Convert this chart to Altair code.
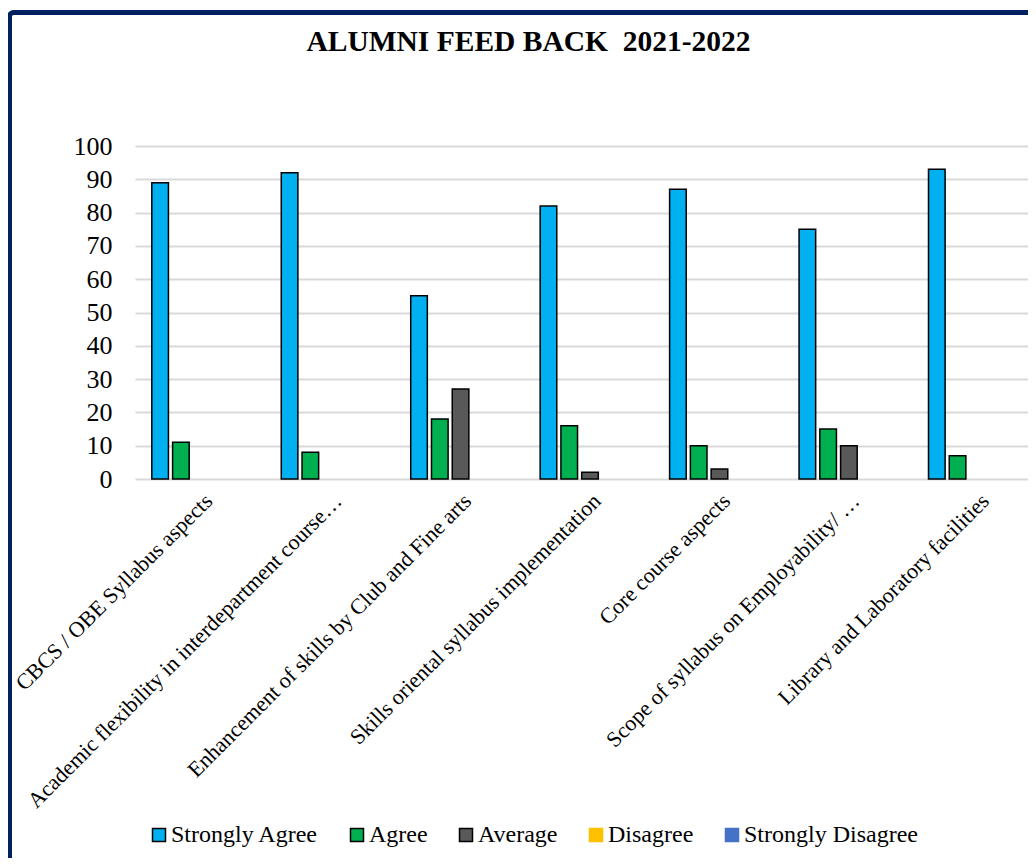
import altair as alt
import pandas as pd

categories = [
    "CBCS / OBE Syllabus aspects",
    "Academic flexibility in interdepartment course…",
    "Enhancement of skills by Club and Fine arts",
    "Skills oriental syllabus implementation",
    "Core course aspects",
    "Scope of syllabus on Employability/ …",
    "Library and Laboratory facilities",
]
series = ["Strongly Agree", "Agree", "Average", "Disagree", "Strongly Disagree"]
strongly_agree = [89, 92, 55, 82, 87, 75, 93]
agree = [11, 8, 18, 16, 10, 15, 7]
average = [0, 0, 27, 2, 3, 10, 0]
disagree = [0, 0, 0, 0, 0, 0, 0]
strongly_disagree = [0, 0, 0, 0, 0, 0, 0]
colors = ["#00B0F0", "#00B050", "#595959", "#FFC000", "#4472C4"]
outlines = ["#000000", "#000000", "#000000", "#FFC000", "#4472C4"]
y_ticks = list(range(0, 101, 10))
title_text = "ALUMNI FEED BACK\u00a0 2021-2022"

values_by_series = [strongly_agree, agree, average, disagree, strongly_disagree]
rows = []
for s, vals in zip(series, values_by_series):
    for c, v in zip(categories, vals):
        rows.append({"category": c, "series": s, "value": v})
df = pd.DataFrame(rows)

FONT = "Liberation Serif"

legend = alt.Legend(
    title=None,
    orient="none",
    legendX=12,
    legendY=677,
    direction="horizontal",
    columns=5,
    columnPadding=26,
    labelFont=FONT,
    labelFontSize=24,
    labelColor="black",
    labelOffset=0,
    labelLimit=0,
    symbolType="square",
    symbolSize=169,
    symbolStrokeWidth=1.5,
    padding=0,
)

bars = (
    alt.Chart(df)
    .transform_filter("datum.value > 0")
    .mark_bar(strokeWidth=1.5)
    .encode(
        x=alt.X(
            "category:N",
            sort=categories,
            scale=alt.Scale(range=[0, 910], paddingInner=0.23, paddingOuter=0.13),
            axis=alt.Axis(
                title=None,
                labelAngle=-45,
                labelAlign="right",
                labelBaseline="top",
                labelFont=FONT,
                labelFontSize=22,
                labelColor="black",
                labelPadding=11,
                labelLimit=0,
                ticks=False,
                domain=False,
            ),
        ),
        xOffset=alt.XOffset(
            "series:N",
            sort=series,
            scale=alt.Scale(domain=series, paddingInner=0.2, paddingOuter=0),
        ),
        y=alt.Y(
            "value:Q",
            scale=alt.Scale(domain=[0, 100]),
            axis=alt.Axis(
                title=None,
                values=y_ticks,
                labelFont=FONT,
                labelFontSize=26,
                labelColor="black",
                labelPadding=23,
                ticks=False,
                domain=False,
                gridColor="#d9d9d9",
                gridWidth=2,
            ),
        ),
        color=alt.Color("series:N", scale=alt.Scale(domain=series, range=colors), legend=legend),
        stroke=alt.Stroke("series:N", scale=alt.Scale(domain=series, range=outlines), legend=legend),
    )
)

frame = (
    alt.Chart(pd.DataFrame({"frame": [0]}))
    .mark_rect(filled=False, stroke="#002060", strokeWidth=5, cornerRadius=4)
    .encode(
        x=alt.value(-125.5),
        x2=alt.value(1000),
        y=alt.value(-133.5),
        y2=alt.value(800),
    )
)

title = (
    alt.Chart(pd.DataFrame({"title": [title_text]}))
    .mark_text(
        font=FONT,
        fontSize=29.5,
        fontWeight="bold",
        color="black",
        align="center",
        baseline="alphabetic",
    )
    .encode(
        text="title:N",
        x=alt.value(393.5),
        y=alt.value(-95),
    )
)

chart = (
    alt.layer(frame, bars, title)
    .properties(
        width=893,
        height=333,
        padding={"left": 127, "top": 138, "right": 0, "bottom": 379},
        autosize=alt.AutoSizeParams(type="none"),
        background="white",
    )
    .configure(font=FONT)
    .configure_view(strokeWidth=0)
    .configure_legend(labelFont=FONT, labelFontSize=24, labelColor="black", labelLimit=0)
)

chart.save("out.html", embed_options={"renderer": "svg", "actions": False})
